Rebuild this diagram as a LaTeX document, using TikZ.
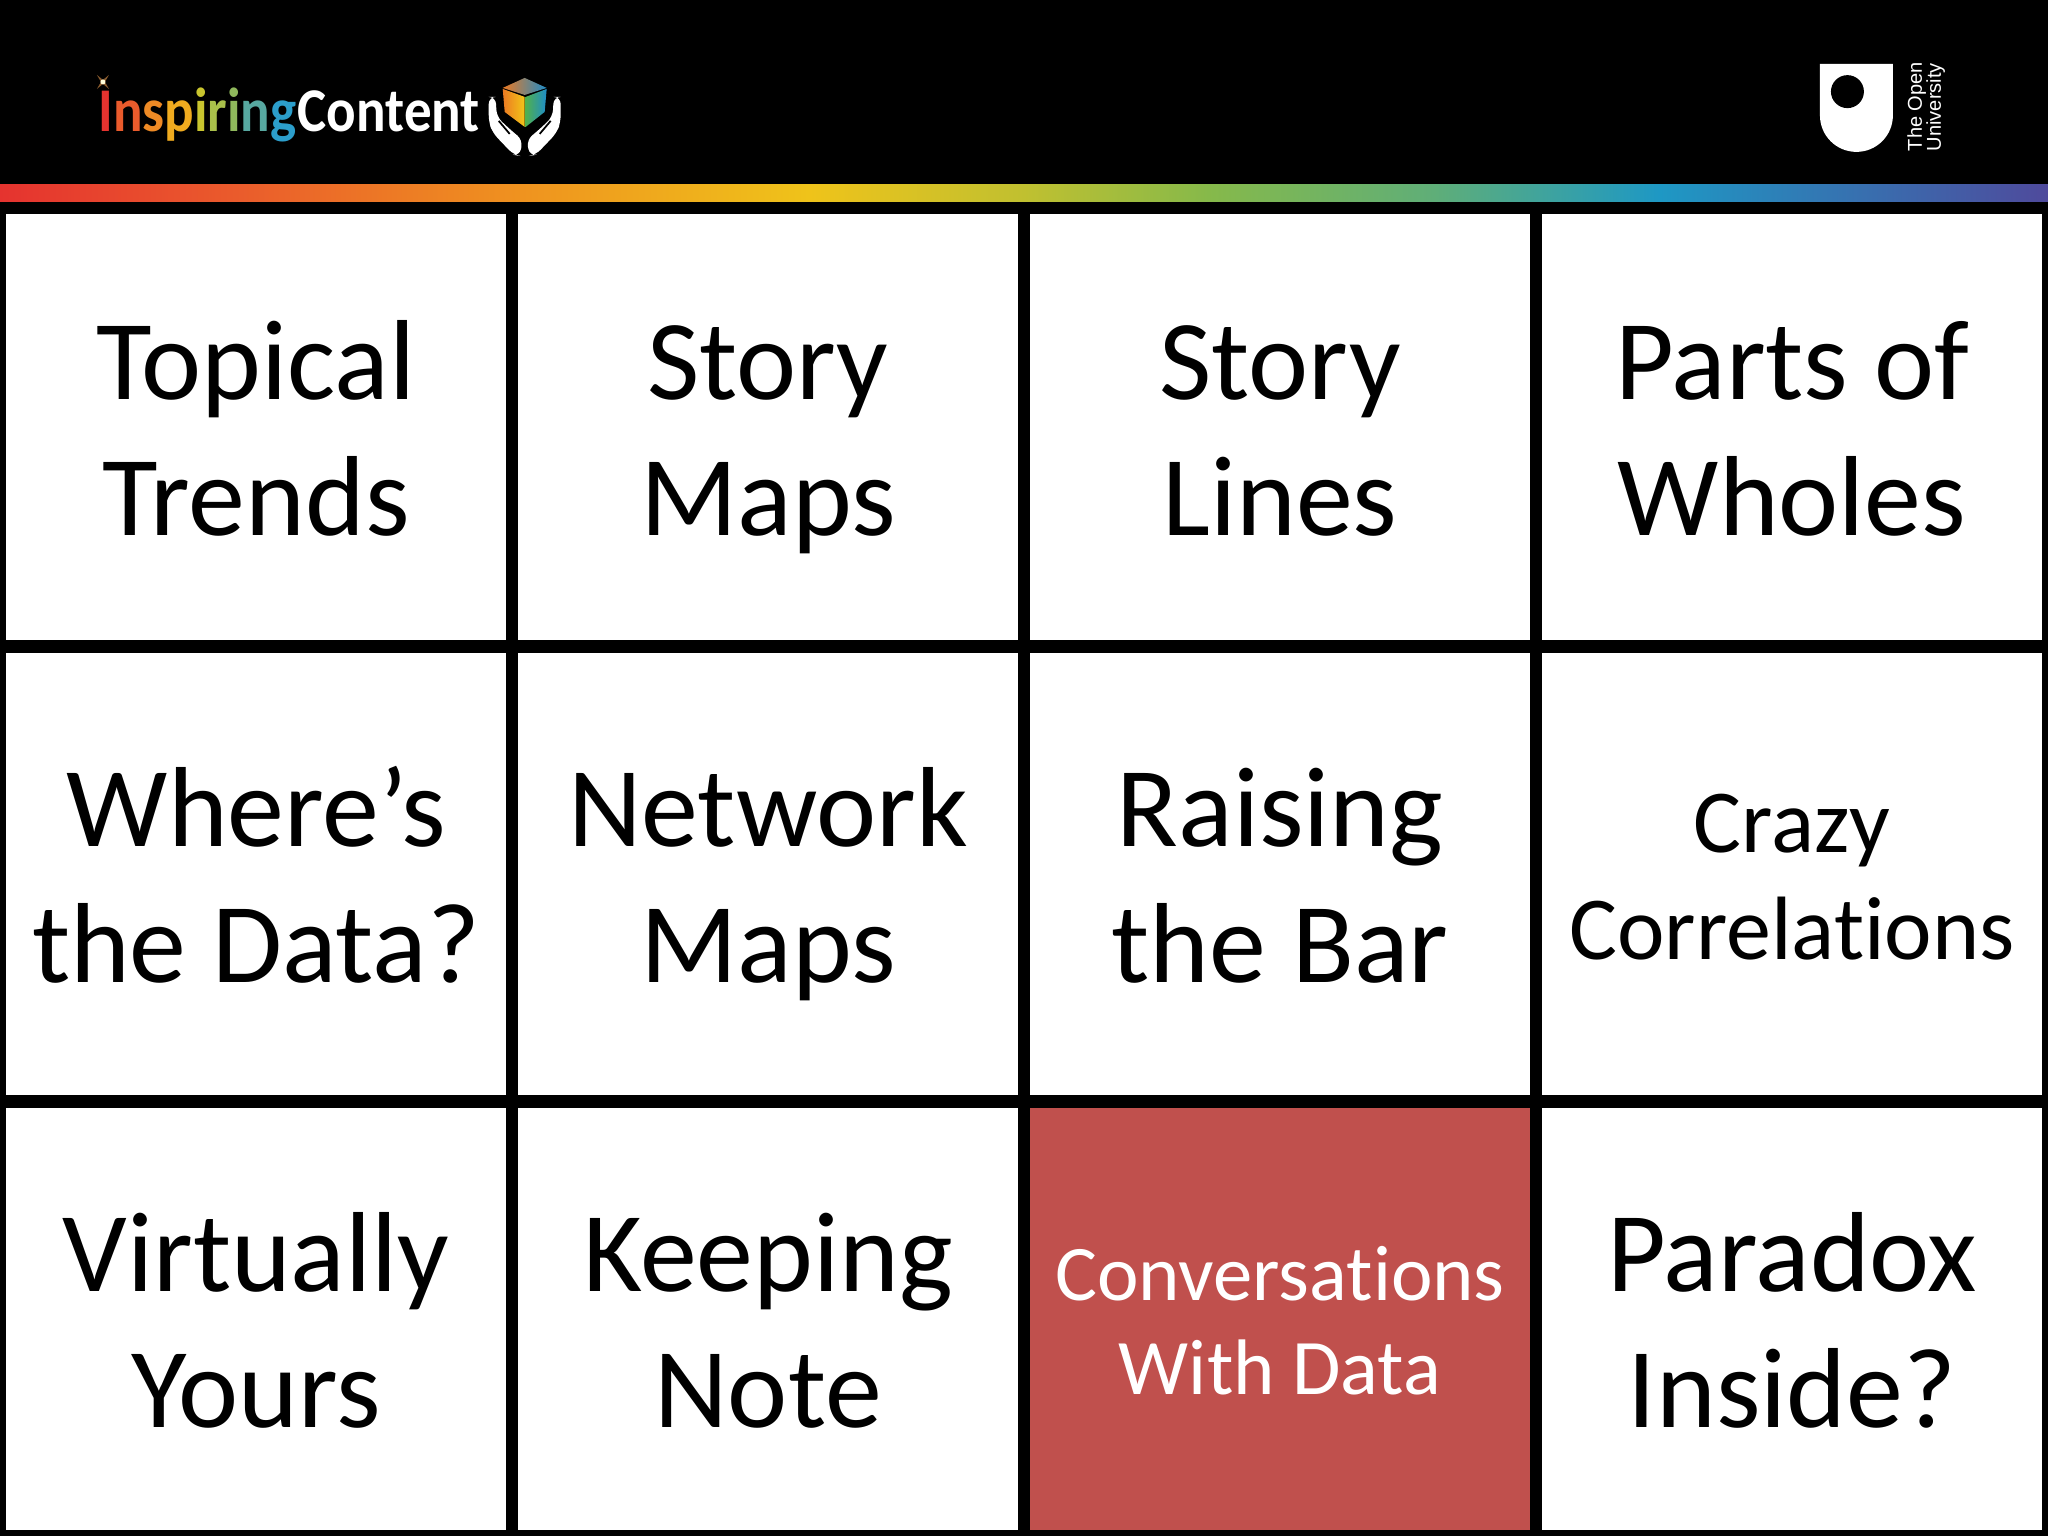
\documentclass[tikz,border=0pt]{standalone}
\usepackage{fontspec}
\setmainfont[Ligatures=NoCommon]{Carlito}
\newfontfamily\oufont{Liberation Sans}
\usetikzlibrary{positioning}

\definecolor{cellred}{HTML}{C0504D}
\definecolor{cubeorange}{HTML}{EC7A22}
\definecolor{cubeyellow}{HTML}{F2C518}
\definecolor{cubegreen}{HTML}{4FB04F}
\definecolor{cubeblue}{HTML}{1E8CC8}

\definecolor{bandone}{HTML}{E5332F}
\definecolor{bandtwo}{HTML}{EA5B2C}
\definecolor{bandthree}{HTML}{EF931F}
\definecolor{bandfour}{HTML}{EFC31A}
\definecolor{bandfive}{HTML}{C0C030}
\definecolor{bandsix}{HTML}{86B94A}
\definecolor{bandseven}{HTML}{5FAE78}
\definecolor{bandeight}{HTML}{1E98C4}
\definecolor{bandnine}{HTML}{4F4A9C}

\pgfdeclarehorizontalshading{rainbowband}{100bp}{
  color(0bp)=(bandone); color(25bp)=(bandone); color(30.75bp)=(bandtwo);
  color(37.75bp)=(bandthree); color(44.75bp)=(bandfour); color(50bp)=(bandfive);
  color(54.5bp)=(bandsix); color(60bp)=(bandseven); color(65.5bp)=(bandeight);
  color(75bp)=(bandnine); color(100bp)=(bandnine)}

\newcommand{\twolines}[2]{\rule{0pt}{0.9\baselineskip}#1\\\strut #2}

\tikzset{
  gridcell/.style={fill=white,text=black,minimum width=5cm,inner sep=0pt,align=center,
    font=\fontsize{32.4}{38.7}\selectfont},
  rowone/.style={gridcell,minimum height=4.26cm},
  rowtwo/.style={gridcell,minimum height=4.42cm},
  rowthree/.style={gridcell,minimum height=4.22cm},
  logotext/.style={inner sep=0pt,text=white,xscale=0.885,font=\bfseries\fontsize{17.7}{20}\selectfont},
  outext/.style={inner sep=0pt,text=white,rotate=90,anchor=base west,
    font=\oufont\fontsize{5.7}{7}\selectfont},
  logoscope/.style={x=0.01cm,y=-0.01cm,shift={(0cm,15.36cm)}}
}

\begin{document}
\begin{tikzpicture}

% Draw the background
\fill[black] (0,0) rectangle (20.48,15.36);
\shade[shading=rainbowband] (0,13.34) rectangle (20.48,13.51);

% Draw the cells
\node[rowone] (topical) at (2.56,11.09) {\twolines{Topical}{Trends}};
\node[rowone] (storymaps) at (7.68,11.09) {\twolines{Story}{Maps}};
\node[rowone] (storylines) at (12.80,11.09) {\twolines{Story}{Lines}};
\node[rowone] (parts) at (17.92,11.09) {\twolines{Parts of}{Wholes}};

\node[rowtwo] (wheres) at (2.56,6.62) {\twolines{Where’s}{the Data?}};
\node[rowtwo] (network) at (7.68,6.62) {\twolines{Network}{Maps}};
\node[rowtwo] (raising) at (12.80,6.62) {\twolines{Raising}{the Bar}};
\node[rowtwo,font=\fontsize{25.6}{30.4}\selectfont] (crazy) at (17.92,6.62) {\twolines{Crazy}{Correlations}};

\node[rowthree] (virtually) at (2.56,2.17) {\twolines{Virtually}{Yours}};
\node[rowthree] (keeping) at (7.68,2.17) {\twolines{Keeping}{Note}};
\node[rowthree,fill=cellred,text=white,font=\fontsize{22.4}{27}\selectfont] (conversations) at (12.80,2.17) {\twolines{Conversations}{With Data}};
\node[rowthree] (paradox) at (17.92,2.17) {\twolines{Paradox}{Inside?}};

% Draw the left logo
\begin{scope}[logoscope]
\node[logotext,anchor=base west] (inspiring) at (98,132) {\textcolor{bandone}{I}\textcolor{bandtwo}{n}\textcolor[HTML]{EE8A25}{s}\textcolor[HTML]{F0AB1F}{p}\textcolor[HTML]{C9C52E}{i}\textcolor[HTML]{A9C04A}{r}\textcolor[HTML]{8FB85C}{i}\textcolor[HTML]{57A8A0}{n}\textcolor[HTML]{2C9ECB}{g}};
\node[logotext,anchor=base west] (content) at (inspiring.base east) {Content};
\fill[brown!70!black] (97,75) -- (103,80) -- (109,75) -- (105,82) -- (109,89) -- (103,84) -- (97,89) -- (101,82) -- cycle;
\fill[white!85!yellow] (103,82) circle (2.5);

% the cube
\shade[left color=cubeorange,right color=cubeyellow] (503,89) -- (525,97) -- (525,127) -- (505,112) -- cycle;
\shade[left color=cubegreen,right color=cubeblue] (547,89) -- (526,97) -- (526,127) -- (545,112) -- cycle;
\shade[left color=cubeorange,middle color=cubegreen,right color=cubeblue] (525,78) -- (547,88) -- (525,95) -- (503,88) -- cycle;

% the hands
\fill[white,rounded corners=2pt] (489,97) -- (496,97) -- (497,117) -- (512,131) -- (523,140) -- (520,156) -- (514,155) -- (493,133) -- (489,122) -- cycle;
\fill[white,rounded corners=2pt] (561,97) -- (554,97) -- (553,117) -- (538,131) -- (527,140) -- (530,156) -- (536,155) -- (557,133) -- (561,122) -- cycle;
\draw[black,line width=0.5pt] (499,121) -- (510,134) (551,121) -- (540,134);

% Draw the right logo
\fill[white] (1821,64) -- (1894,64) -- (1894,115.5) arc (0:180:36.5) -- cycle;
\fill[black] (1848.5,91.7) circle (16.5);
\node[outext] (theopen) at (1923,152) {The Open};
\node[outext] (university) at (1942,152) {University};
\end{scope}

\end{tikzpicture}
\end{document}
